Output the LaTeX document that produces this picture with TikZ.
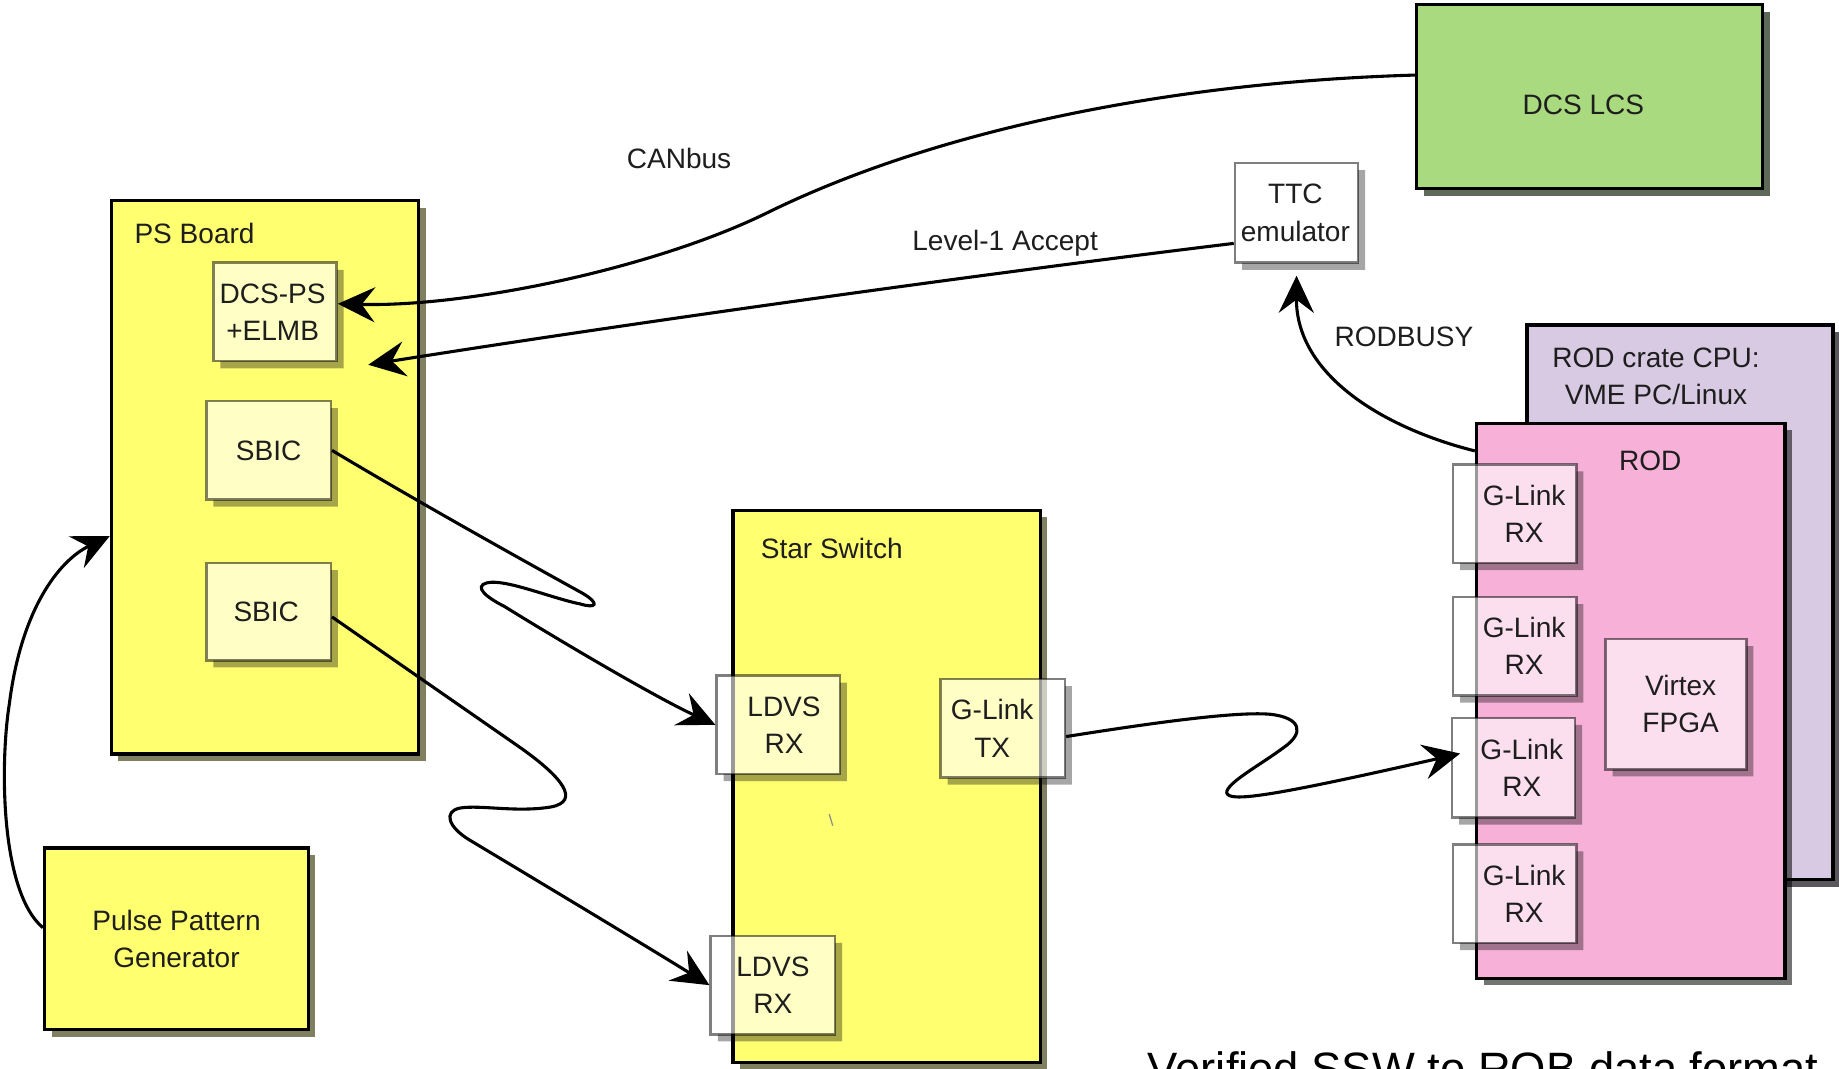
\documentclass[tikz,border=0pt]{standalone}
\usepackage{fontspec}
\setmainfont{Liberation Sans}
\usetikzlibrary{arrows.meta}
\definecolor{psyellow}{RGB}{255,255,112}
\definecolor{ysh}{RGB}{128,128,96}
\definecolor{dcsgreen}{RGB}{170,218,127}
\definecolor{gsh}{RGB}{95,105,90}
\definecolor{rodpink}{RGB}{247,176,216}
\definecolor{cpupurple}{RGB}{216,202,226}
\definecolor{psh}{RGB}{90,88,92}
\definecolor{txt}{RGB}{30,30,30}
\tikzset{
  lbl/.style={font=\fontsize{6.8}{9}\selectfont, text=txt, inner sep=0pt, align=center},
  bigbox/.style={draw=black, line width=0.8pt, inner sep=0pt, align=center,
    font=\fontsize{6.8}{9}\selectfont, text=txt},
  smallbox/.style={draw=black, draw opacity=0.5, fill=white, fill opacity=0.6,
    line width=0.6pt, inner sep=0pt},
  conn/.style={line width=0.75pt, -{Stealth[length=9pt,width=8.5pt,inset=3.2pt]}},
}
% big box: name, x1, y1, x2, y2, fill, shadow style, text
\newcommand\bigbx[8]{%
  \fill[#7] ({#2+6},{#3+6}) rectangle ({#4+6},{#5+6});
  \node[bigbox, fill=#6, minimum width={(#4-#2)*0.01cm}, minimum height={(#5-#3)*0.01cm}]
    (#1) at ({(#2+#4)/2},{(#3+#5)/2}) {#8};
}
% small box: [text xshift], name, x1, y1, x2, y2, text
\newcommand\smbx[7][0]{%
  \fill[black, fill opacity=0.35] ({#3+6},{#6}) -- ({#5},{#6}) -- ({#5},{#4+6}) --
    ({#5+6},{#4+6}) -- ({#5+6},{#6+6}) -- ({#3+6},{#6+6}) -- cycle;
  \node[smallbox, minimum width={(#5-#3)*0.01cm}, minimum height={(#6-#4)*0.01cm}]
    (#2) at ({(#3+#5)/2},{(#4+#6)/2}) {};
  \node[lbl] (#2t) at ({(#3+#5)/2+#1},{(#4+#6)/2}) {#7};
}
\begin{document}
\begin{tikzpicture}[x=0.01cm, y=-0.01cm]
\useasboundingbox (0,0) rectangle (1568,911);
\fill[white] (0,0) rectangle (1568,911);

% DCS LCS and TTC
\bigbx{dcs}{1208}{4}{1503}{161}{dcsgreen}{gsh}{}
\node[lbl] (dcslbl) at (1350,89) {DCS LCS};
\smbx[-1]{ttc}{1053}{139}{1158}{224}{TTC\\emulator}

% PS Board
\bigbx{ps}{95}{171}{357}{643}{psyellow}{ysh}{}
\node[lbl, anchor=west] (pslbl) at (114,199) {PS Board};
\smbx[-2]{dcsps}{182}{224}{287}{308}{DCS-PS\\+ELMB}
\smbx{sbica}{176}{342}{282}{426}{SBIC}
\smbx[-2]{sbicb}{176}{480}{282}{563}{SBIC}

% Pulse Pattern Generator
\bigbx{pulse}{38}{723}{263}{878}{psyellow}{ysh}{Pulse Pattern\\Generator}

% Star Switch
\bigbx{ssw}{625}{435}{887}{906}{psyellow}{ysh}{}
\node[lbl, anchor=west] (sswlbl) at (648,468) {Star Switch};
\smbx[5]{ldvsa}{611}{576}{716}{660}{LDVS\\RX}
\smbx[-9]{gtx}{802}{579}{908}{663}{G-Link\\TX}
\smbx{ldvsb}{606}{798}{712}{882}{LDVS\\RX}
\draw[black!45, line width=0.3pt] (707,694) -- (710,704);

% ROD crate CPU and ROD
\bigbx{cpu}{1302}{277}{1563}{750}{cpupurple}{psh}{}
\node[lbl] (cpulbl) at (1412,321) {ROD crate CPU:\\VME PC/Linux};
\fill[black, fill opacity=0.55] (1265,367) rectangle (1528,840);
\node[bigbox, fill=rodpink, minimum width=2.63cm, minimum height=4.73cm] (rod) at (1390.5,597.5) {};
\node[lbl] (rodlbl) at (1407,393) {ROD};
\smbx[8]{grxa}{1239}{396}{1344}{480}{G-Link\\RX}
\smbx[8]{grxb}{1239}{509}{1344}{593}{G-Link\\RX}
\smbx[7]{grxc}{1238}{612}{1343}{697}{G-Link\\RX}
\smbx[8]{grxd}{1239}{720}{1344}{804}{G-Link\\RX}
\smbx[4]{virtex}{1369}{545}{1489}{656}{Virtex\\FPGA}

% connector labels
\node[lbl] (canlbl) at (579,135) {CANbus};
\node[lbl] (l1lbl) at (857,207) {Level-1 Accept};
\node[lbl] (busylbl) at (1197,287) {RODBUSY};

% connectors
\coordinate (l1end) at (314,311);
\draw[conn] ([yshift=0.185cm]dcs.west) .. controls (1000,70) and (800,110) .. (655,181)
  .. controls (560,228) and (400,262) .. ([yshift=0.07cm]dcsps.east);
\draw[conn] ([yshift=-0.26cm]ttc.west) .. controls (850,232) and (560,272) .. (l1end);
\draw[conn] ([yshift=-0.25cm]rod.north west) .. controls (1180,365) and (1105,320) .. ([yshift=-0.1cm]ttc.south);
\draw[conn] ([yshift=0.095cm]pulse.west) .. controls (0,760) and (0,650) .. (8,600)
  .. controls (18,520) and (50,478) .. ([yshift=-0.5cm]ps.west);
\draw[conn] (sbica.east) .. controls (350,424) and (430,469) .. (497,506)
  .. controls (512,515) and (508,519) .. (495,515)
  .. controls (470,510) and (430,493) .. (415,497)
  .. controls (404,500) and (414,509) .. (430,517)
  .. controls (480,548) and (560,595) .. (ldvsa.west);
\draw[conn] ([yshift=-0.045cm]sbicb.east) -- (443,637)
  .. controls (480,663) and (495,683) .. (470,688)
  .. controls (440,693) and (410,686) .. (392,689)
  .. controls (378,692) and (382,705) .. (400,716)
  .. controls (460,752) and (540,800) .. (ldvsb.west);
\draw[conn] ([yshift=-0.07cm]gtx.east) .. controls (960,620) and (1050,606) .. (1083,609)
  .. controls (1110,612) and (1112,625) .. (1095,637)
  .. controls (1075,652) and (1045,668) .. (1046,676)
  .. controls (1048,684) and (1080,680) .. ([xshift=0.08cm,yshift=0.12cm]grxc.west);

% caption (cut off at the bottom edge, as in the reference)
\node[font=\fontsize{11}{13}\selectfont, text=black, inner sep=0pt, anchor=base west] (caption) at (978,925) {Verified SSW to ROB data format};
\end{tikzpicture}
\end{document}
